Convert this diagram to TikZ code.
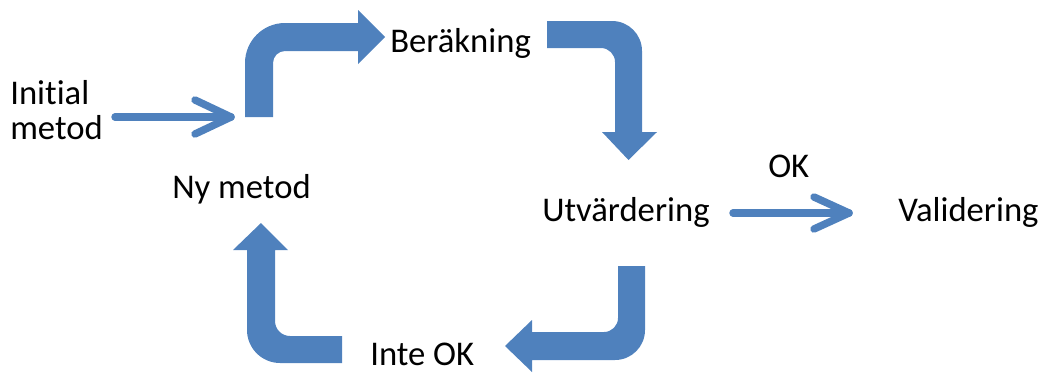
\documentclass[tikz,border=0pt]{standalone}
\usepackage{fontspec}
\setmainfont[RawFeature=-liga]{Carlito}
\usepackage{xcolor}
\definecolor{arrowblue}{RGB}{79,129,189}
\newcommand{\lbltext}{\fontsize{26}{26.25}\selectfont}

\begin{document}
\begin{tikzpicture}[x=0.75pt,y=0.75pt,yscale=-1,xscale=1,
    bentarrow/.style={fill=arrowblue},
    openarrow/.style={draw=arrowblue, line width=5.6pt, line cap=round, line join=round},
    lbl/.style={inner sep=0pt, font=\lbltext}]
    \useasboundingbox (0,0) rectangle (1041,372);

    % Text Node
    \draw (10,139) node [anchor=base west] [lbl] [align=left] (init) {Initial\\metod};
    % Text Node
    \draw (390,52) node [anchor=base west] [lbl] (berakning) {Beräkning};
    % Text Node
    \draw (172,198) node [anchor=base west] [lbl] (nymetod) {Ny metod};
    % Text Node
    \draw (542,221) node [anchor=base west] [lbl] (utvard) {Utvärdering};
    % Text Node
    \draw (768,177) node [anchor=base west] [lbl] (ok) {OK};
    % Text Node
    \draw (898,221) node [anchor=base west] [lbl] (valid) {Validering};
    % Text Node
    \draw (370,365) node [anchor=base west] [lbl] (inteok) {Inte OK};

    %Shape: Bent Arrow [up, then right]
    \fill [bentarrow] (245,117) -- (245,63) .. controls (245,40.9) and (262.9,23) .. (285,23) -- (358,23) -- (358,10) -- (385,37) -- (358,64) -- (358,51) -- (285,51) .. controls (278.4,51) and (273,56.4) .. (273,63) -- (273,117) -- cycle ;
    %Shape: Bent Arrow [right, then down]
    \fill [bentarrow] (547,21) -- (612,21) .. controls (628.6,21) and (642,34.4) .. (642,51) -- (642,132) -- (657,132) -- (628.5,160) -- (602,132) -- (615,132) -- (615,62) .. controls (615,54.3) and (608.7,48) .. (601,48) -- (547,48) -- cycle ;
    %Shape: Bent Arrow [down, then left]
    \fill [bentarrow] (618,266) -- (645,266) -- (645,330) .. controls (645,346.6) and (631.6,360) .. (615,360) -- (532,360) -- (532,372) -- (505,346) -- (532,320) -- (532,332) -- (604,332) .. controls (611.7,332) and (618,325.7) .. (618,318) -- cycle ;
    %Shape: Bent Arrow [left, then up]
    \fill [bentarrow] (342,336) -- (290,336) .. controls (281.7,336) and (275,329.3) .. (275,321) -- (275,250) -- (288,250) -- (261,223) -- (233,250) -- (247,250) -- (247,330) .. controls (247,348.2) and (261.8,363) .. (280,363) -- (342,363) -- cycle ;

    %Straight Lines
    \coordinate (inStart) at (115,117);
    \coordinate (inEnd) at (231,117);
    \draw [openarrow] (inStart) -- (inEnd);
    \draw [openarrow] (inEnd) ++(-36,-17) -- (inEnd) -- ++(-36,17);
    %Straight Lines
    \coordinate (okStart) at (733,213);
    \coordinate (okEnd) at (849,213);
    \draw [openarrow] (okStart) -- (okEnd);
    \draw [openarrow] (okEnd) ++(-35,-16) -- (okEnd) -- ++(-35,16);

\end{tikzpicture}
\end{document}
